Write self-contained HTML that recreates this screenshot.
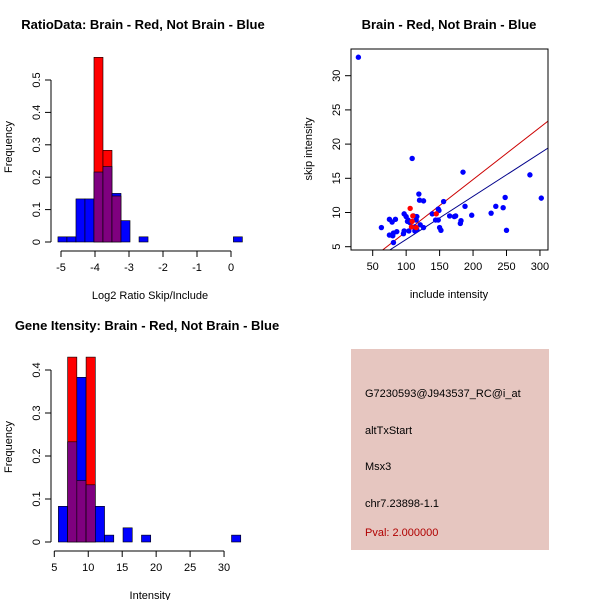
<!DOCTYPE html>
<html><head><meta charset="utf-8"><style>
html,body{margin:0;padding:0;background:#fff}
svg text{font-family:"Liberation Sans",sans-serif;font-size:11px;fill:#000}
.t{font-weight:bold;font-size:13px}
</style></head><body>
<svg id="c" width="600" height="600" viewBox="0 0 600 600" xmlns="http://www.w3.org/2000/svg">
<text class="t" x="143" y="29" text-anchor="middle">RatioData: Brain - Red, Not Brain - Blue</text>
<text class="t" x="449" y="29" text-anchor="middle">Brain - Red, Not Brain - Blue</text>
<text class="t" x="147" y="330" text-anchor="middle">Gene Itensity: Brain - Red, Not Brain - Blue</text>
<g>
<rect x="351" y="349" width="198" height="201" fill="#E6C6C0"/>
<text x="365" y="397">G7230593@J943537_RC@i_at</text>
<text x="365" y="434">altTxStart</text>
<text x="365" y="470">Msx3</text>
<text x="365" y="507">chr7.23898-1.1</text>
<text x="365" y="536" style="fill:#B00000">Pval: 2.000000</text>
</g>
</svg>
<script>
// ratio histogram data
const ratioBinLefts=[-5.09,-4.825,-4.56,-4.295,-4.03,-3.765,-3.5,-3.235,-2.705,0.07];
const ratioBlue=[0.016,0.016,0.133,0.133,0.216,0.233,0.15,0.066,0.016,0.016];
const ratioRed=[0,0,0,0,0.57,0.283,0.142,0,0,0];
const ratioXTicks=[-5,-4,-3,-2,-1,0];
const ratioYTicks=[0,0.1,0.2,0.3,0.4,0.5];
// intensity histogram data
const intBinLefts=[5.6,6.96,8.32,9.68,11.04,12.4,15.12,17.84,31.1];
const intBlue=[0.083,0.233,0.383,0.133,0.083,0.016,0.033,0.016,0.016];
const intRed=[0,0.43,0.143,0.43,0,0,0,0,0];
const intXTicks=[5,10,15,20,25,30];
const intYTicks=[0,0.1,0.2,0.3,0.4];
// scatter data
const blueX=[28.6,109,185,285,119,120,126,156,248,302,234,245,188,148,149,227,198,139,144,148,165,172,174,182,181,150,152,250,63,75,79,84,81,86,75,80,81,97,100,102,106,111,116,115,121,126,97,104,113,116,113,96,103];
const blueY=[32.7,17.9,15.9,15.5,12.7,11.8,11.7,11.6,12.2,12.1,10.9,10.7,10.9,10.5,10.3,9.9,9.6,9.8,8.9,8.9,9.5,9.4,9.5,8.8,8.4,7.8,7.4,7.4,7.8,9.0,8.6,9.0,7.0,7.2,6.7,6.6,5.6,9.8,9.4,8.7,8.5,9.5,9.4,8.9,8.2,7.8,7.3,7.3,7.3,7.5,7.9,6.9,8.9];
const redX=[106,110,145,108,115,109];
const redY=[10.6,9.5,9.8,7.9,7.8,8.7];
const redFit=[-0.42,0.0762];
const blueFit=[-0.24,0.063];
const scXTicks=[50,100,150,200,250,300];
const scYTicks=[5,10,15,20,25,30];

const NS="http://www.w3.org/2000/svg",svg=document.getElementById('c');
function mk(tag,at,parent){const e=document.createElementNS(NS,tag);for(const k in at)e.setAttribute(k,at[k]);(parent||svg).appendChild(e);return e;}

function hist(o){
  const g=mk('g',{});
  
  
  const sx=v=>o.x0+(v-o.xv0)*o.kx, sy=v=>o.y0-v*o.ky;
  for(let i=0;i<o.lefts.length;i++){
    const l=sx(o.lefts[i]),r=sx(o.lefts[i]+o.w),b=o.blue[i],rd=o.red[i];
    const mx=Math.max(b,rd),mn=Math.min(b,rd);
    if(mx>0){const e=mk('rect',{x:l,y:sy(mx),width:r-l,height:sy(0)-sy(mx),fill:b>=rd?'#0000FF':'#FF0000',stroke:'#000','stroke-width':0.6},g);
      
      }
    if(mn>0){const e=mk('rect',{x:l,y:sy(mn),width:r-l,height:sy(0)-sy(mn),fill:'#7F007F',stroke:'#000','stroke-width':0.6},g);
      
      }
  }
  const ax=o.axY;
  mk('line',{x1:sx(o.xt[0]),x2:sx(o.xt[o.xt.length-1]),y1:ax,y2:ax,stroke:'#000'},g);
  o.xt.forEach(t=>{mk('line',{x1:sx(t),x2:sx(t),y1:ax,y2:ax+6,stroke:'#000'},g);
    const tx=mk('text',{x:sx(t),y:ax+20,'text-anchor':'middle'},g);tx.textContent=t;});
  mk('line',{x1:o.x0y,x2:o.x0y,y1:sy(o.yt[0]),y2:sy(o.yt[o.yt.length-1]),stroke:'#000'},g);
  o.yt.forEach(t=>{mk('line',{x1:o.x0y,x2:o.x0y-6,y1:sy(t),y2:sy(t),stroke:'#000'},g);
    const tx=mk('text',{x:o.x0y-11,y:sy(t),'text-anchor':'middle',transform:`rotate(-90 ${o.x0y-11} ${sy(t)})`},g);tx.textContent=String(t);});
  const xl=mk('text',{x:o.xlx,y:ax+48,'text-anchor':'middle'},g);xl.textContent=o.xlab;
  const yl=mk('text',{x:12,y:o.yly,'text-anchor':'middle',transform:`rotate(-90 12 ${o.yly})`},g);yl.textContent='Frequency';
}
hist({name:'ratio-histogram',lefts:ratioBinLefts,w:0.265,blue:ratioBlue,red:ratioRed,x0:61,xv0:-5,kx:34,y0:242,ky:324,axY:251,x0y:51,xt:ratioXTicks,yt:ratioYTicks,xlab:'Log2 Ratio Skip/Include',xlx:150,yly:147});
hist({name:'intensity-histogram',lefts:intBinLefts,w:1.36,blue:intBlue,red:intRed,x0:54.3,xv0:5,kx:6.79,y0:542,ky:430,axY:551,x0y:51,xt:intXTicks,yt:intYTicks,xlab:'Intensity',xlx:150,yly:447});

// scatter
(function(){
  const g=mk('g',{});
  
  
  const sx=v=>372.7+(v-50)*0.669, sy=v=>246.7-(v-5)*6.84;
  const L=351,R=548,T=49,B=250;
  const cp=mk('clipPath',{id:'cl'},g);mk('rect',{x:L,y:T,width:R-L,height:B-T},cp);
  [[redFit,'#CC0000','red-fit-line'],[blueFit,'#00008B','blue-fit-line']].forEach(([f,c,n])=>{
    const x1=0,x2=330;
    const ln=mk('line',{x1:sx(x1),x2:sx(x2),y1:sy(f[0]+f[1]*x1),y2:sy(f[0]+f[1]*x2),stroke:c,'clip-path':'url(#cl)'},g);
    
    
  });
  blueX.forEach((x,i)=>{const p=mk('circle',{cx:sx(x),cy:sy(blueY[i]),r:2.7,fill:'#0000FF'},g);
    
    });
  redX.forEach((x,i)=>{const p=mk('circle',{cx:sx(x),cy:sy(redY[i]),r:2.7,fill:'#FF0000'},g);
    
    });
  mk('rect',{x:L,y:T,width:R-L,height:B-T,fill:'none',stroke:'#000'},g);
  scXTicks.forEach(t=>{mk('line',{x1:sx(t),x2:sx(t),y1:B,y2:B+6,stroke:'#000'},g);
    const tx=mk('text',{x:sx(t),y:B+20,'text-anchor':'middle'},g);tx.textContent=t;});
  scYTicks.forEach(t=>{mk('line',{x1:L,x2:L-6,y1:sy(t),y2:sy(t),stroke:'#000'},g);
    const tx=mk('text',{x:L-11,y:sy(t),'text-anchor':'middle',transform:`rotate(-90 ${L-11} ${sy(t)})`},g);tx.textContent=t;});
  const xl=mk('text',{x:449,y:298,'text-anchor':'middle'},g);xl.textContent='include intensity';
  const yl=mk('text',{x:312,y:149,'text-anchor':'middle',transform:'rotate(-90 312 149)'},g);yl.textContent='skip intensity';
})();
</script>
</body></html>
